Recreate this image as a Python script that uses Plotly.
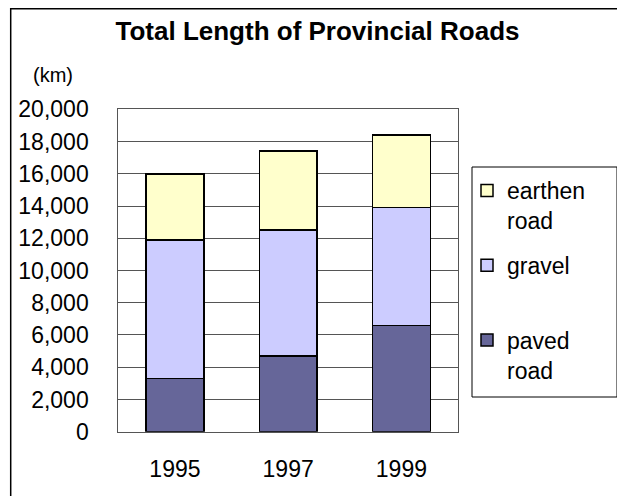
import plotly.graph_objects as go

years = ["1995", "1997", "1999"]
paved = [3300, 4700, 6600]
gravel = [8600, 7800, 7300]
earthen = [4100, 4900, 4500]
series_names = ["paved<br>road", "gravel<br> ", "earthen<br>road"]
colors = ["#666699", "#CCCCFF", "#FFFFCC"]
y_ticks = [0, 2000, 4000, 6000, 8000, 10000, 12000, 14000, 16000, 18000, 20000]

W, H = 625, 496
OFF = 8  # page body margin offset
FONT = "Liberation Sans, Arial, sans-serif"

def px_x(p):
    return (p - OFF) / W

def px_y(p):
    return 1 - (p - OFF) / H

fig = go.Figure()
for i, (name, vals) in enumerate(zip(series_names, [paved, gravel, earthen])):
    fig.add_trace(go.Bar(
        x=years, y=vals, name=name,
        marker=dict(color=colors[i], line=dict(color="black", width=1.5)),
        legendgroup=str(i), legendrank=1000 - i,
    ))

fig.update_layout(
    width=W, height=H,
    margin=dict(l=0, r=0, t=0, b=0),
    paper_bgcolor="white", plot_bgcolor="white",
    barmode="stack", bargap=0.49,
    font=dict(family=FONT, size=23, color="black"),
    title=dict(text="<b>Total Length of Provincial Roads</b>", x=px_x(317.5), xanchor="center",
               y=px_y(31), yanchor="middle", font=dict(size=26, family=FONT)),
    xaxis=dict(domain=[px_x(118.3), px_x(458)], showline=True, linecolor="#555", linewidth=1,
               mirror=True, ticks="", ticklabelstandoff=17, automargin=False,
               tickfont=dict(size=23)),
    yaxis=dict(domain=[px_y(431.7), px_y(109.3)], range=[0, 20000], tickvals=y_ticks,
               tickformat=",d", showgrid=True, gridcolor="#555", gridwidth=1,
               showline=True, linecolor="#555", linewidth=1, mirror=True,
               ticks="inside", ticklen=7, tickcolor="#555",
               ticklabelstandoff=24, automargin=False, zeroline=False,
               tickfont=dict(size=23)),
    legend=dict(x=px_x(467), y=px_y(169), xanchor="left", yanchor="top",
                borderwidth=0, bgcolor="rgba(0,0,0,0)",
                traceorder="grouped", tracegroupgap=12, valign="top",
                font=dict(size=23, family=FONT)),
    showlegend=True,
)

fig.add_annotation(text="(km)", x=px_x(53), y=px_y(75), xref="paper", yref="paper",
                   xanchor="center", yanchor="middle",
                   showarrow=False, font=dict(size=20, family=FONT))
# legend box
fig.add_shape(type="rect", xref="paper", yref="paper",
              x0=px_x(472), x1=px_x(617), y0=px_y(397), y1=px_y(167),
              line=dict(color="black", width=1), fillcolor="white", layer="below")
# outer chart frame
fig.add_shape(type="rect", xref="paper", yref="paper",
              x0=px_x(10.7), x1=px_x(622), y0=px_y(510), y1=px_y(8.7),
              line=dict(color="black", width=1.5), fillcolor="rgba(0,0,0,0)", layer="below")

fig.write_html("out.html")
